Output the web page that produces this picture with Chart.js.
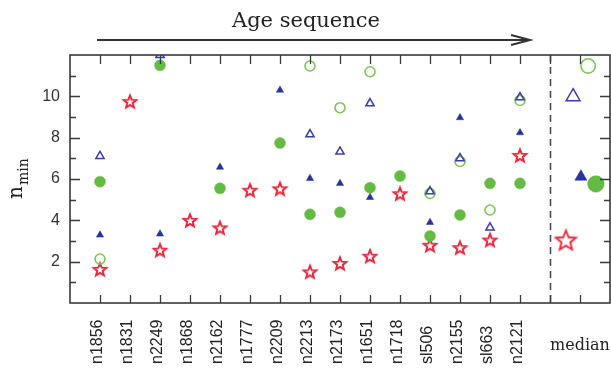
<!DOCTYPE html>
<html><head><meta charset="utf-8">
<script src="https://cdn.jsdelivr.net/npm/chart.js@4"></script>
<style>html,body{margin:0;padding:0;background:#fff;} #wrap{width:611px;height:370px;}</style>
</head><body><div id="wrap"><canvas id="c" width="611" height="370"></canvas></div>
<script>
// ---------------- data ----------------
const categories = ['n1856','n1831','n2249','n1868','n2162','n1777','n2209','n2213','n2173','n1651','n1718','sl506','n2155','sl663','n2121'];
const starValues       = [1.60, 9.72, 2.53, 3.97, 3.61, 5.43, 5.50, 1.48, 1.89, 2.24, 5.26, 2.77, 2.65, 3.02, 7.11];
const filledTriValues  = [3.29, null, 3.34, null, 6.57, null, 10.30, 6.03, 5.79, 5.11, null, 3.90, 8.97, null, 8.24];
const openTriValues    = [7.11, null, 12.00, null, null, null, null, 8.16, 7.32, 9.66, null, 5.40, 7.00, 3.65, 9.95];
const filledCircValues = [5.87, null, 11.50, null, 5.55, null, 7.74, 4.29, 4.39, 5.58, 6.14, 3.24, 4.26, 5.79, 5.79];
const openCircValues   = [2.13, null, null, null, null, null, null, 11.47, 9.45, 11.19, null, 5.30, 6.85, 4.50, 9.80];
const medianLabel = 'median';
const medianStar = 3.00, medianFilledTri = 6.11, medianOpenTri = 9.98, medianFilledCirc = 5.76, medianOpenCirc = 11.47;
const yTickValues = [2, 4, 6, 8, 10];
const titleText = 'Age sequence';

// ---------------- layout / style ----------------
const MEDIAN_POS = categories.length + 2;  // after the dashed separator
const SEPARATOR_POS = categories.length + 1;
const MEDIAN_SHIFT = {star: -0.47, openTri: -0.23, filledTri: 0.03, openCirc: 0.27, filledCirc: 0.53};
const RED = '#e8283c', BLUE = '#27339a', BLUE_OPEN = '#3b3bab', GREEN = '#64bb44', GREEN_OPEN = '#7cc65a';
const FRAME = '#3a3a3a';
const MI = categories.length;

function makeStar(R, r, lw) {
  const size = Math.ceil(2 * R + lw * 2 + 2);
  const cv = document.createElement('canvas');
  cv.width = size; cv.height = size;
  const g = cv.getContext('2d');
  g.translate(size / 2, size / 2);
  g.beginPath();
  for (let k = 0; k < 10; k++) {
    const a = -Math.PI / 2 + k * Math.PI / 5;
    const rr = k % 2 === 0 ? R : r;
    const px = Math.cos(a) * rr, py = Math.sin(a) * rr;
    if (k === 0) g.moveTo(px, py); else g.lineTo(px, py);
  }
  g.closePath();
  g.fillStyle = '#fff'; g.fill();
  g.lineWidth = lw; g.strokeStyle = RED; g.lineJoin = 'miter'; g.stroke();
  return cv;
}
const smallStar = makeStar(6.6, 2.9, 2.0);
const bigStar = makeStar(10.5, 4.6, 1.9);

function series(values, medianValue, shift) {
  const pts = values.map((v, i) => ({x: i + 1, y: v}));
  pts.push({x: MEDIAN_POS + shift, y: medianValue});
  return pts;
}
const bySize = (small, big) => (c) => c.dataIndex === MI ? big : small;

const decor = {
  id: 'decor',
  beforeDatasetsDraw(chart) {
    const {ctx, chartArea: a, scales: {x}} = chart;
    ctx.save();
    ctx.strokeStyle = '#444'; ctx.lineWidth = 1.5; ctx.setLineDash([7, 5]);
    const sx = Math.round(x.getPixelForValue(SEPARATOR_POS)) + 0.5;
    ctx.beginPath(); ctx.moveTo(sx, a.top); ctx.lineTo(sx, a.bottom); ctx.stroke();
    ctx.restore();
  },
  afterDraw(chart) {
    const {ctx, chartArea: a, scales: {x, y}} = chart;
    ctx.save();
    // frame
    ctx.strokeStyle = FRAME; ctx.lineWidth = 1.6;
    ctx.strokeRect(a.left, a.top, a.right - a.left, a.bottom - a.top);
    ctx.lineWidth = 1.3;
    ctx.beginPath();
    for (let v = y.min + 1; v < y.max; v++) {
      const py = Math.round(y.getPixelForValue(v)) + 0.5;
      const len = v % 2 === 0 ? 10 : 6;
      ctx.moveTo(a.left, py); ctx.lineTo(a.left + len, py);
      ctx.moveTo(a.right, py); ctx.lineTo(a.right - len, py);
    }
    for (let i = 1; i <= MEDIAN_POS; i++) {
      const px = Math.round(x.getPixelForValue(i)) + 0.5;
      ctx.moveTo(px, a.bottom); ctx.lineTo(px, a.bottom - 8);
      ctx.moveTo(px, a.top); ctx.lineTo(px, a.top + 9);
    }
    ctx.stroke();
    // category labels (rotated)
    ctx.fillStyle = '#222';
    ctx.font = '16px "Liberation Sans", Arial, sans-serif';
    ctx.textAlign = 'left'; ctx.textBaseline = 'alphabetic';
    categories.forEach((c, i) => {
      const px = x.getPixelForValue(i + 1);
      ctx.save(); ctx.translate(px + 2, a.bottom + 61); ctx.rotate(-Math.PI / 2);
      ctx.fillText(c, 0, 0); ctx.restore();
    });
    // median label
    ctx.font = '16px "DejaVu Serif", serif';
    ctx.textAlign = 'center';
    ctx.fillText(medianLabel, x.getPixelForValue(MEDIAN_POS), a.bottom + 47);
    // y title n_min (rotated)
    ctx.save(); ctx.translate(22, 199); ctx.rotate(-Math.PI / 2);
    ctx.textAlign = 'left';
    ctx.font = '20px "DejaVu Serif", serif';
    ctx.fillText('n', 0, 0);
    const w = ctx.measureText('n').width;
    ctx.font = '14px "DejaVu Serif", serif';
    ctx.fillText('min', w + 1, 6);
    ctx.restore();
    // title + arrow
    ctx.font = '21px "DejaVu Serif", serif';
    ctx.textAlign = 'center';
    ctx.fillStyle = '#222';
    ctx.fillText(titleText, 306, 27);
    ctx.strokeStyle = '#333'; ctx.lineWidth = 2;
    ctx.beginPath(); ctx.moveTo(97, 40); ctx.lineTo(529, 40); ctx.stroke();
    ctx.beginPath(); ctx.moveTo(511, 35); ctx.lineTo(530, 40); ctx.lineTo(511, 45); ctx.stroke();
    ctx.restore();
  }
};

new Chart(document.getElementById('c'), {
  type: 'scatter',
  data: {
    datasets: [
      {data: series(openTriValues, medianOpenTri, MEDIAN_SHIFT.openTri), pointStyle: 'triangle',
       pointRadius: bySize(4.8, 8), borderColor: BLUE_OPEN, backgroundColor: 'rgba(255,255,255,0)', pointBorderWidth: 1.5, clip: 0},
      {data: series(openCircValues, medianOpenCirc, MEDIAN_SHIFT.openCirc), pointStyle: 'circle',
       pointRadius: bySize(5, 7.2), borderColor: GREEN_OPEN, backgroundColor: 'rgba(255,255,255,0)', pointBorderWidth: 1.6},
      {data: series(filledTriValues, medianFilledTri, MEDIAN_SHIFT.filledTri), pointStyle: 'triangle',
       pointRadius: bySize(4.2, 7), borderColor: BLUE, backgroundColor: BLUE, pointBorderWidth: 0.5},
      {data: series(filledCircValues, medianFilledCirc, MEDIAN_SHIFT.filledCirc), pointStyle: 'circle',
       pointRadius: bySize(5.5, 8.3), borderColor: GREEN, backgroundColor: GREEN, pointBorderWidth: 0.5},
      {data: series(starValues, medianStar, MEDIAN_SHIFT.star), pointStyle: bySize(smallStar, bigStar),
       pointRadius: bySize(6, 10), borderColor: RED, backgroundColor: '#fff'}
    ]
  },
  options: {
    responsive: false, animation: false, devicePixelRatio: 1,
    layout: {autoPadding: false, padding: {left: 0, top: 55, right: 1, bottom: 67}},
    plugins: {legend: {display: false}, tooltip: {enabled: false}},
    elements: {point: {hoverRadius: 0}},
    scales: {
      x: {type: 'linear', min: 0, max: MEDIAN_POS + 1, display: false},
      y: {type: 'linear', min: 0, max: 12, position: 'left',
          afterFit(s) { s.width = 70; },
          grid: {display: false, drawTicks: false}, border: {display: false},
          ticks: {stepSize: 1, autoSkip: false, padding: 10, color: '#333',
                  font: {family: '"Liberation Sans", Arial, sans-serif', size: 16},
                  callback: v => yTickValues.includes(v) ? String(v) : ''}}
    }
  },
  plugins: [decor]
});
</script>
</body></html>
